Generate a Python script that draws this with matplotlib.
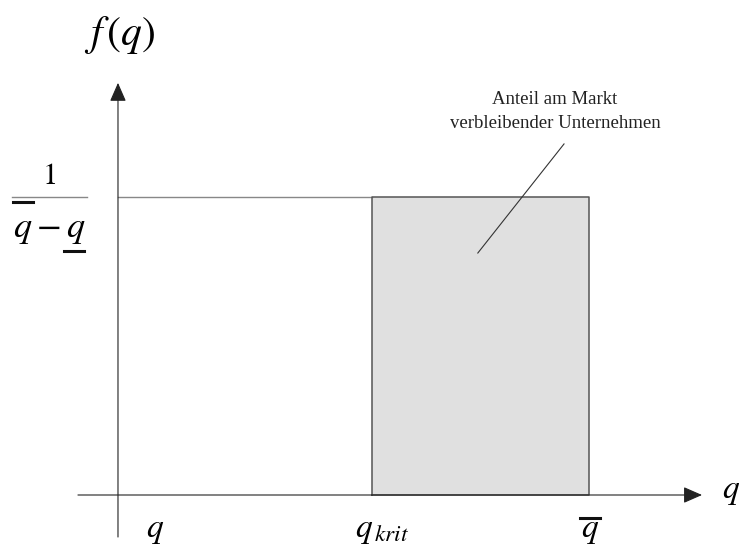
import matplotlib
matplotlib.use("Agg")
import matplotlib.pyplot as plt

plt.rcParams['mathtext.fontset'] = 'stix'
plt.rcParams['font.family'] = ['Liberation Serif', 'DejaVu Serif']

# Gleichverteilung auf [q_unten, q_oben]
q_unten = 0.0
q_krit = 0.54
q_oben = 1.0
f_wert = 1.0          # Dichte 1/(q_oben - q_unten), normiert
fill_col = '#e0e0e0'

fig = plt.figure(figsize=(7.39, 5.49), dpi=100)
ax = fig.add_axes([0, 0, 1, 1])
ax.set_xlim(-0.2505, 1.3185)
ax.set_ylim(-0.1812, 1.661)
ax.axis('off')

# Achsen mit Pfeilen
arr = dict(arrowstyle='-|>,head_length=0.96,head_width=0.42', mutation_scale=12,
           color='#222222', lw=0.8, shrinkA=0, shrinkB=0)
ax.annotate('', xy=(1.240, 0), xytext=(-0.085, 0), arrowprops=arr)
ax.annotate('', xy=(0, 1.383), xytext=(0, -0.141), arrowprops=arr)

# Dichte f(q)
ax.plot([q_unten, q_krit], [f_wert, f_wert], color='#888888', lw=1.0)
ax.fill_between([q_krit, q_oben], 0, f_wert, color=fill_col, lw=0)
ax.plot([q_krit, q_krit, q_oben, q_oben, q_krit], [0, f_wert, f_wert, 0, 0],
        color='#555555', lw=1.1)

# Achsenbeschriftungen
ax.text(0.004, 1.544, r'$f\,\left(q\right)$', fontsize=30, ha='center', va='center')
ax.text(1.282, -0.010, r'$q$', fontsize=24, ha='left', va='baseline')

ax.text(-0.146, 1.07, r'$1$', fontsize=22, ha='center', va='center')
ax.plot([-0.225, -0.066], [f_wert, f_wert], color='#888888', lw=1.0)
ax.text(-0.146, 0.866, r'$q-q$', fontsize=26, ha='center', va='baseline')
ax.plot([-0.222, -0.180], [0.983, 0.983], color='#111111', lw=2.2)
ax.plot([-0.115, -0.072], [0.819, 0.819], color='#111111', lw=2.2)

ax.text(0.079, -0.141, r'$q$', fontsize=24, ha='center', va='baseline')
ax.text(q_krit - 0.037, -0.141, r'$q_{\,krit}$', fontsize=24, ha='left', va='baseline')
ax.text(q_oben + 0.002, -0.141, r'$q$', fontsize=24, ha='center', va='baseline')
ax.plot([q_oben - 0.020, q_oben + 0.024], [-0.077, -0.077], color='#111111', lw=2.2)

# Hinweis
ax.text(0.928, 1.357, 'Anteil am Markt\nverbleibender Unternehmen', fontsize=13.5,
        ha='center', va='top', multialignment='center', linespacing=1.55, color='#222222')
ax.plot([0.947, 0.764], [1.178, 0.812], color='#333333', lw=0.8)

fig.savefig('out.png', dpi=100)
